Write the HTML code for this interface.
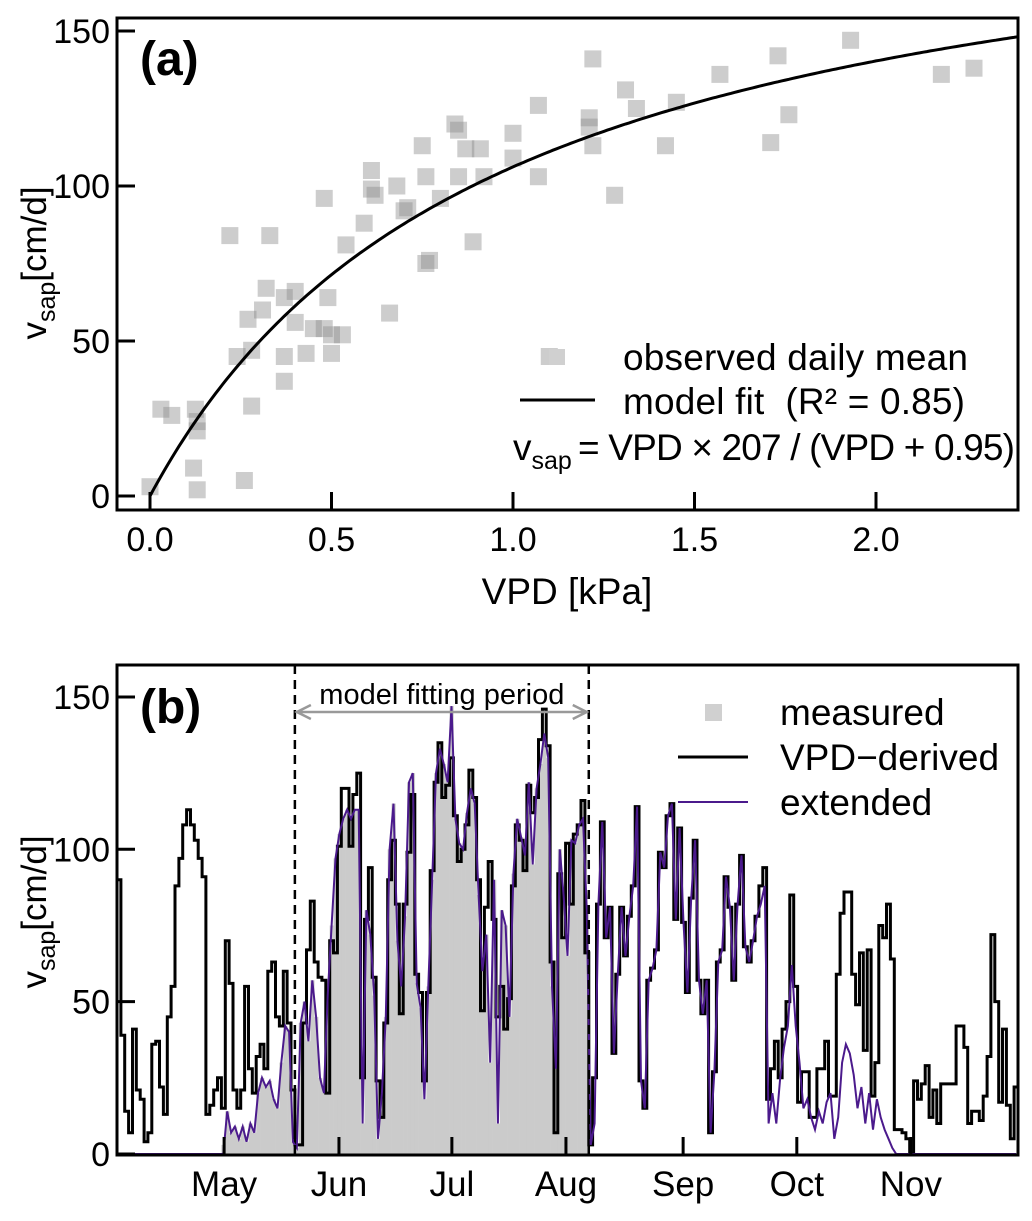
<!DOCTYPE html>
<html><head><meta charset="utf-8">
<style>
html,body{margin:0;padding:0;background:#fff;}
svg{display:block;font-family:"Liberation Sans",Arial,sans-serif;}
</style></head>
<body>
<svg id="chart" width="1032" height="1221" viewBox="0 0 1032 1221" xmlns="http://www.w3.org/2000/svg">
<g id="pa"></g>
<g id="pb"></g>
</svg>
<script>
// ---------- Panel (a) data ----------
const obsVPD = [0,0.03,0.06,0.125,0.13,0.13,0.12,0.13,0.22,0.24,0.26,0.27,0.28,0.28,0.31,0.32,0.33,0.37,0.37,0.37,0.40,0.40,0.43,0.45,0.48,0.49,0.50,0.50,0.53,0.48,0.54,0.59,0.61,0.61,0.62,0.66,0.68,0.70,0.71,0.75,0.76,0.76,0.77,0.80,0.84,0.85,0.85,0.87,0.89,0.91,0.92,1.0,1.0,1.07,1.07,1.10,1.21,1.21,1.22,1.22,1.28,1.31,1.34,1.42,1.45,1.57,1.71,1.73,1.76,1.93,2.18,2.27];
const obsSap = [3,28,26,28,24,21,9,2,84,45,5,57,29,47,60,67,84,37,45,64,66,56,46,54,54,64,52,46,52,96,81,88,105,99,97,59,100,92,93,113,103,75,76,96,120,118,103,112,82,112,103,109,117,103,126,45,119,122,141,113,97,131,125,113,127,136,114,142,123,147,136,138];
const fitA = 207, fitB = 0.95;
const xTicksA = [0,0.5,1.0,1.5,2.0];
const xTickLabelsA = ["0.0","0.5","1.0","1.5","2.0"];
const yTicks = [0,50,100,150];
const yTickLabels = ["0","50","100","150"];

// ---------- Panel (b) data ----------
const vpdDerived = [90,39,14,7,41,21,18,4,7,36,37,22,13,45,55,88,97,108,113,108,103,97,91,13,16,21,25,15,70,56,21,15,21,55,28,20,32,36,28,60,63,45,42,60,43,21,3,3,43,67,83,63,58,57,20,70,66,101,120,
120,101,118,125,25,77,94,58,24,12,43,90,103,82,46,82,99,118,59,53,24,53,93,122,135,117,121,130,111,96,100,108,126,117,90,47,81,96,77,45,55,41,51,88,108,103,93,121,112,117,136,146,134,63,7,92,71,102,82,105,108,116,66,3,
25,82,109,71,81,33,59,81,65,78,88,114,24,15,57,61,67,99,94,111,115,77,107,76,53,84,103,57,46,57,7,27,63,67,91,81,57,82,98,68,63,70,78,88,94,18,28,37,25,41,50,85,55,17,27,
27,12,12,28,28,37,19,19,59,79,86,86,59,49,66,34,67,19,30,75,71,82,64,8,8,7,5,0,24,18,23,29,12,21,10,23,23,23,23,42,42,35,10,14,14,11,19,32,72,50,17,41,16,5,22];
const extended = [0,0,0,0,0,0,0,0,0,0,0,0,0,0,0,0,0,0,0,0,0,0,0,0,0,0,0,0,
14,7,9,5,9,4,10,7,20,25,22,24,18,15,30,42,40,4,2,43,50,37,57,45,25,20,52,75,97,105,110,
113,110,113,113,10,80,72,52,5,20,45,100,115,70,55,78,122,125,56,48,18,55,90,125,133,128,122,147,110,102,100,112,120,115,85,60,72,30,90,10,80,75,45,92,110,104,98,122,95,120,128,138,130,55,28,100,85,65,103,102,108,110,80,3,
10,82,109,71,81,33,59,81,65,78,88,114,24,15,57,61,67,99,94,111,115,77,107,76,53,84,103,57,46,57,7,27,63,67,91,81,57,82,98,68,63,70,78,82,88,10,20,10,25,35,42,62,42,30,15,
18,12,8,14,10,17,20,5,12,30,36,33,26,15,22,10,20,8,18,12,8,5,2,0,0,0,0,0,0,0,0,0,0,0,0,0,0,0,0,0,0,0,0,0,0,0,0,0,0,0,0,0,0,0,0];
const measuredStart = 27;
const measured = [3,14,7,9,5,9,4,10,7,20,25,22,24,18,15,30,42,40,4,2,43,50,37,57,45,25,20,52,75,97,105,110,
113,110,113,113,10,80,72,52,5,20,45,100,115,70,55,78,122,125,56,48,18,55,90,125,133,128,122,147,110,102,100,112,120,115,85,60,72,30,90,10,80,75,45,92,110,104,98,122,95,120,128,138,130,55,28,100,85,65,103,102,108,110,80];
const fitStartIdx = 46, fitEndIdx = 122;
const monthIdx = [27.7,57.4,86.6,116.1,146.4,175.8,205.3];
const monthLabels = ["May","Jun","Jul","Aug","Sep","Oct","Nov"];

const NS = "http://www.w3.org/2000/svg";
function mk(parent, tag, attrs, text){
  const e = document.createElementNS(NS, tag);
  for (const k in attrs) e.setAttribute(k, attrs[k]);
  if (text !== undefined) e.textContent = text;
  parent.appendChild(e); return e;
}

// ---------- Panel (a) ----------
const pa = document.getElementById('pa');
const A = {l:117, r:1018, t:18, b:510};
const xa = v => 150 + 363*v;
const ya = v => 496 - 3.1*v;
for (let i=0;i<obsVPD.length;i++){
  const s = mk(pa,'rect',{x:xa(obsVPD[i])-8.5,y:ya(obsSap[i])-8.5,width:17,height:17,fill:'#888',opacity:0.42});
  
  
}
let d = '';
for (let k=0;k<=240;k++){ const v = k/100; const yv = v*fitA/(v+fitB); if (xa(v) > A.r) break; d += (k?'L':'M')+xa(v).toFixed(1)+' '+ya(yv).toFixed(1); }
const fit = mk(pa,'path',{d:d,fill:'none',stroke:'#000','stroke-width':3});


const fa = mk(pa,'rect',{x:A.l,y:A.t,width:A.r-A.l,height:A.b-A.t,fill:'none',stroke:'#000','stroke-width':3});


for (let i=0;i<xTicksA.length;i++){
  const x = xa(xTicksA[i]);
  const t = mk(pa,'line',{x1:x,y1:A.b,x2:x,y2:A.b-18,stroke:'#000','stroke-width':3});
  
  
  const lb = mk(pa,'text',{x:x,y:551,'font-size':34,'text-anchor':'middle'},xTickLabelsA[i]);
  
  
}
for (let i=0;i<yTicks.length;i++){
  const y = ya(yTicks[i]);
  const t = mk(pa,'line',{x1:A.l,y1:y,x2:A.l+18,y2:y,stroke:'#000','stroke-width':3});
  
  
  const lb = mk(pa,'text',{x:110,y:y+12,'font-size':34,'text-anchor':'end'},yTickLabels[i]);
  
  
}
</script>
<script>
(function(){
const pa = document.getElementById('pa');
pa.insertAdjacentHTML('beforeend',
 '<text x="140" y="75" font-size="48" font-weight="bold">(a)</text>'+
 '<text x="567" y="604" font-size="37" text-anchor="middle">VPD [kPa]</text>'+
 '<text transform="translate(46,263) rotate(-90)" font-size="35" text-anchor="middle">v<tspan font-size="25" dy="9">sap</tspan><tspan dy="-9">[cm/d]</tspan></text>'+
 '<rect x="549" y="349" width="16" height="16" fill="#d0d0d0"/>'+
 '<text x="623" y="370" font-size="37" textLength="345">observed daily mean</text>'+
 '<line x1="520" y1="400" x2="595" y2="400" stroke="#000" stroke-width="3"/>'+
 '<text x="623" y="414" font-size="37" textLength="342" xml:space="preserve">model fit  (R² = 0.85)</text>'+
 '<text x="513" y="460" font-size="37">v<tspan font-size="25" dy="9">sap</tspan><tspan dy="-9" x="578" textLength="437">= VPD × 207 / (VPD + 0.95)</tspan></text>'
);
})();
</script>
<script>
// ---------- Panel (b) ----------
(function(){
const pb = document.getElementById('pb');
const B = {l:117, r:1018, t:665, b:1155};
const N = vpdDerived.length;
const sx = (B.r-B.l)/N;
const xb = i => B.l + i*sx;
const yb = v => 1154 - 3.047*v;
for (let j=0;j<measured.length;j++){
  const v = measured[j];
  const bar = mk(pb,'rect',{x:xb(measuredStart+j),y:yb(v),width:sx+0.3,height:1154-yb(v),fill:'#cbcbcb'});
  
  
}
let d='';
for (let i=0;i<N;i++){ d += (i?'L':'M')+xb(i).toFixed(1)+' '+yb(vpdDerived[i]).toFixed(1)+'L'+xb(i+1).toFixed(1)+' '+yb(vpdDerived[i]).toFixed(1); }
const bl = mk(pb,'path',{d:d,fill:'none',stroke:'#000','stroke-width':3,'stroke-linejoin':'miter'});


let d2='';
for (let i=0;i<N;i++){ d2 += (i?'L':'M')+(xb(i)+sx/2).toFixed(1)+' '+yb(extended[i]).toFixed(1); }
const pl = mk(pb,'path',{d:d2,fill:'none',stroke:'#4b1a8c','stroke-width':2});


[fitStartIdx,fitEndIdx].forEach(i=>{
  const l = mk(pb,'line',{x1:xb(i),y1:B.t,x2:xb(i),y2:B.b,stroke:'#000','stroke-width':2.5,'stroke-dasharray':'9,6'});
  
  
});
const x1 = xb(fitStartIdx)+2, x2 = xb(fitEndIdx)-2;
const ar = mk(pb,'path',{d:`M${x1} 712L${x2} 712M${x1+14} 705L${x1} 712L${x1+14} 719M${x2-14} 705L${x2} 712L${x2-14} 719`,fill:'none',stroke:'#999','stroke-width':2.5});


const ft = mk(pb,'text',{x:(x1+x2)/2,y:704,'font-size':29,'text-anchor':'middle'},'model fitting period');


const fb = mk(pb,'rect',{x:B.l,y:B.t,width:B.r-B.l,height:B.b-B.t,fill:'none',stroke:'#000','stroke-width':3});


for (let i=0;i<yTicks.length;i++){
  const y = yb(yTicks[i]);
  const t = mk(pb,'line',{x1:B.l,y1:y,x2:B.l+18,y2:y,stroke:'#000','stroke-width':3});
  
  
  const lb = mk(pb,'text',{x:110,y:y+12,'font-size':34,'text-anchor':'end'},yTickLabels[i]);
  
  
}
for (let i=0;i<monthIdx.length;i++){
  const x = xb(monthIdx[i]);
  const t = mk(pb,'line',{x1:x,y1:B.b,x2:x,y2:B.b-18,stroke:'#000','stroke-width':3});
  
  
  const lb = mk(pb,'text',{x:x,y:1196,'font-size':35,'text-anchor':'middle'},monthLabels[i]);
  
  
}
pb.insertAdjacentHTML('beforeend',
 '<text x="140" y="723" font-size="48" font-weight="bold">(b)</text>'+
 '<text transform="translate(46,912) rotate(-90)" font-size="35" text-anchor="middle">v<tspan font-size="25" dy="9">sap</tspan><tspan dy="-9">[cm/d]</tspan></text>'+
 '<rect x="705" y="704" width="17" height="17" fill="#d0d0d0"/>'+
 '<text x="780" y="725" font-size="37">measured</text>'+
 '<line x1="678" y1="757" x2="748" y2="757" stroke="#000" stroke-width="3"/>'+
 '<text x="780" y="770" font-size="37">VPD−derived</text>'+
 '<line x1="678" y1="802" x2="748" y2="802" stroke="#4b1a8c" stroke-width="2"/>'+
 '<text x="780" y="815" font-size="37">extended</text>'
);
})();
</script>
</body></html>
